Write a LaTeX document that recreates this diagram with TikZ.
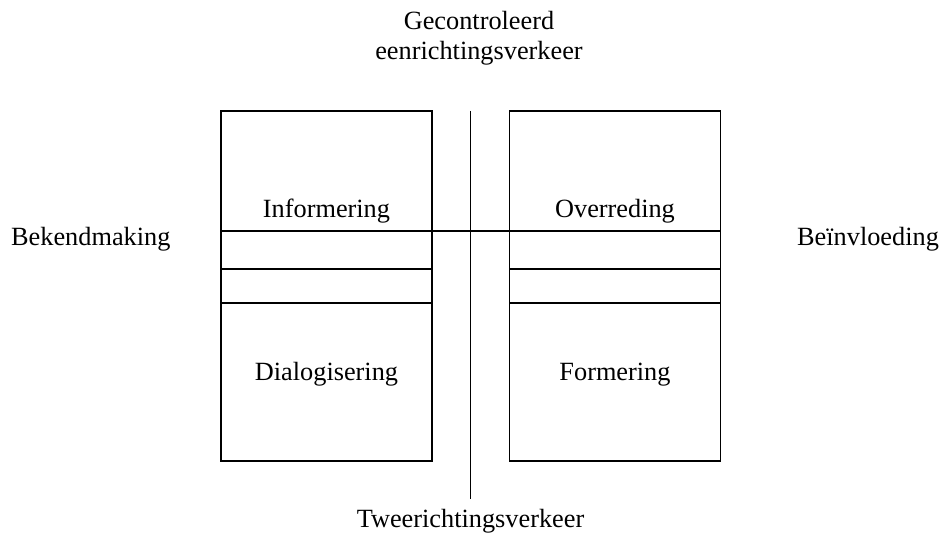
\documentclass[tikz,border=0pt]{standalone}
\usepackage{fontspec}
\setmainfont{Liberation Serif}
\usetikzlibrary{positioning}

\tikzset{
  vak/.style={draw, line width=1.3pt, minimum width=211pt, minimum height=350pt, inner sep=0pt},
  strook/.style={draw, line width=1.3pt, minimum width=211pt, minimum height=34pt, inner sep=0pt},
  tekst/.style={font=\fontsize{26.3}{30}\selectfont, inner sep=0pt, anchor=base},
  lijn/.style={line width=1.3pt}
}

\begin{document}
\begin{tikzpicture}[x=1pt,y=-1pt]
\useasboundingbox (0,0) rectangle (943,540);
% twee vakken met strook
\foreach \naam/\x in {links/326.5, rechts/615} {
  \node[vak] (\naam) at (\x,286) {};
  \node[strook] (strook \naam) at (\x,286) {};
}
\coordinate (rij) at (0,231);
\coordinate (as boven) at (470.5,111);
\coordinate (as onder) at (470.5,499);
\draw[lijn] (links.west |- rij) -- (rechts.east |- rij);
\draw[lijn] (as boven) -- (as onder);
% teksten
\node[tekst] (informering) at (326.5,218) {Informering};
\node[tekst] (overreding) at (615,218) {Overreding};
\node[tekst] (dialogisering) at (326.5,380) {Dialogisering};
\node[tekst] (formering) at (615,380) {Formering};
\node[tekst, anchor=base west] (bekendmaking) at (11,246) {Bekendmaking};
\node[tekst, anchor=base west] (beinvloeding) at (797,246) {Beïnvloeding};
\node[tekst] (gecontroleerd) at (479,30) {Gecontroleerd};
\node[tekst] (eenrichting) at (479,60) {eenrichtingsverkeer};
\node[tekst] (tweerichting) at (470.5,527) {Tweerichtingsverkeer};
\end{tikzpicture}
\end{document}
